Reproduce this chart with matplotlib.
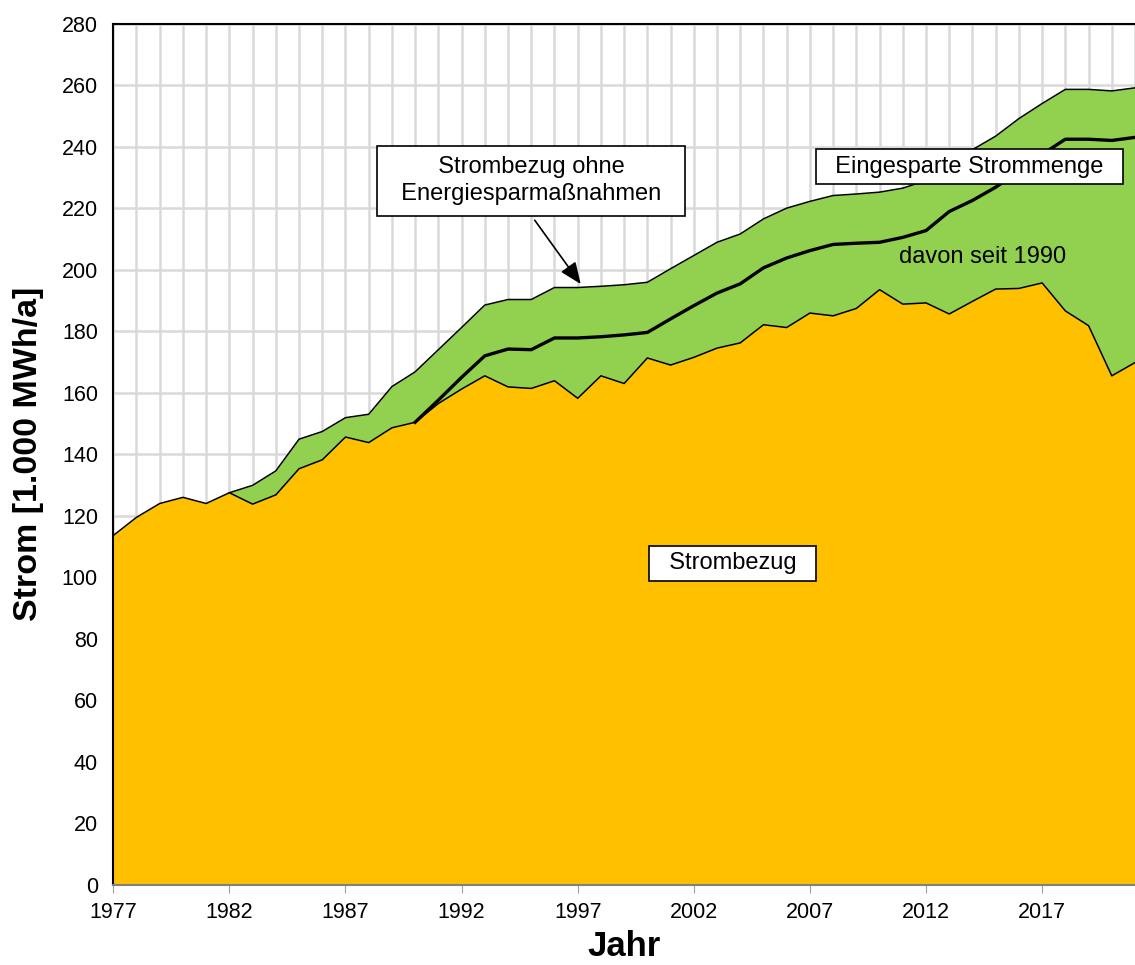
import numpy as np
from matplotlib import pyplot as plt

plt.rcParams['font.family'] = ['Liberation Sans', 'DejaVu Sans']

# Jahre und Werte [1.000 MWh/a]
jahre = np.arange(1977, 2022)
strombezug = [113.6, 119.5, 124.0, 126.0, 124.0, 127.5, 123.8, 126.8, 135.3, 138.2,
              145.6, 143.8, 148.6, 150.4, 156.5, 161.2, 165.5, 161.9, 161.4, 163.9,
              158.2, 165.5, 163.0, 171.3, 169.0, 171.5, 174.5, 176.2, 182.1, 181.2,
              185.9, 185.0, 187.4, 193.5, 188.8, 189.2, 185.6, 189.7, 193.7, 193.9,
              195.7, 186.6, 181.8, 165.5, 169.8]

jahre_ohne = np.arange(1982, 2022)
ohne_sparen = [127.5, 129.9, 134.6, 144.9, 147.4, 151.9, 153.0, 162.0, 166.8, 174.0,
               181.2, 188.5, 190.3, 190.3, 194.2, 194.2, 194.6, 195.1, 195.9, 200.3,
               204.6, 208.9, 211.6, 216.5, 220.0, 222.2, 224.1, 224.6, 225.2, 226.5,
               229.0, 234.0, 239.0, 243.4, 249.1, 254.0, 258.6, 258.6, 258.1, 259.1]

jahre_1990 = np.arange(1990, 2022)
seit_1990 = [150.4, 157.6, 165.0, 172.0, 174.2, 174.0, 177.8, 177.8, 178.2, 178.8,
             179.6, 184.0, 188.3, 192.4, 195.4, 200.6, 203.8, 206.2, 208.2, 208.6,
             208.9, 210.5, 212.7, 218.9, 222.5, 226.8, 232.0, 237.5, 242.4, 242.4,
             242.0, 243.0]

gelb = "#FFC000"
gruen = "#92D050"

fig = plt.figure(figsize=(11.35, 9.65), dpi=100)
ax = fig.add_axes([0.0998, 0.0829, 0.9002, 0.8927])

ax.fill_between(jahre_ohne, 0, ohne_sparen, color=gruen, lw=0, zorder=2)
ax.plot(jahre_ohne, ohne_sparen, color="black", lw=1.1, zorder=3)
ax.fill_between(jahre, 0, strombezug, color=gelb, lw=0, zorder=4)
ax.plot(jahre, strombezug, color="black", lw=1.1, zorder=5)
ax.plot(jahre_1990, seit_1990, color="black", lw=2.4, zorder=6)

ax.set_xlim(1977, 2021)
ax.set_ylim(0, 280)
ax.set_yticks(np.arange(0, 281, 20))
ax.set_xticks(np.arange(1977, 2021, 5))
ax.set_xticks(np.arange(1977, 2022, 1), minor=True)
ax.grid(True, which="both", color="#d9d9d9", lw=1.8, zorder=0)
ax.set_axisbelow(True)

ax.tick_params(axis="y", length=0, pad=11, labelsize=15.5)
ax.tick_params(axis="x", which="major", length=6, color="#a0a0a0", pad=6, labelsize=15.5)
ax.tick_params(axis="x", which="minor", length=0)

ax.spines["left"].set_color("black")
ax.spines["left"].set_linewidth(1.5)
ax.spines["top"].set_color("black")
ax.spines["top"].set_linewidth(1.5)
ax.spines["right"].set_visible(False)
ax.spines["bottom"].set_color("#808080")
ax.spines["bottom"].set_linewidth(1.5)
for s in ax.spines.values():
    s.set_zorder(10)

ax.set_xlabel("Jahr", fontsize=25, fontweight="bold", labelpad=5)
ax.set_ylabel("Strom [1.000 MWh/a]", fontsize=24.5, fontweight="bold", labelpad=13)

box = dict(boxstyle="square,pad=0.27", facecolor="white", edgecolor="black", lw=1.2)
ax.text(1995.0, 228.9, "  Strombezug ohne  \n  Energiesparmaßnahmen  ", fontsize=17,
        ha="center", va="center", linespacing=1.3, bbox=dict(box, boxstyle="square,pad=0.45"), zorder=8)
ax.annotate("", xy=(1997.2, 194.6), xytext=(1995.08, 216.8),
            arrowprops=dict(arrowstyle="-|>,head_length=0.6,head_width=0.25", color="black",
                            lw=1.2, mutation_scale=22), zorder=8)
ax.text(2013.88, 233.5, "  Eingesparte Strommenge  ", fontsize=17,
        ha="center", va="center", bbox=box, zorder=8)
ax.text(2014.42, 204.1, "davon seit 1990", fontsize=17, ha="center", va="center", zorder=8)
ax.text(2003.68, 104.5, "  Strombezug  ", fontsize=17, ha="center", va="center", bbox=box, zorder=8)

plt.savefig("out.png", dpi=100)
